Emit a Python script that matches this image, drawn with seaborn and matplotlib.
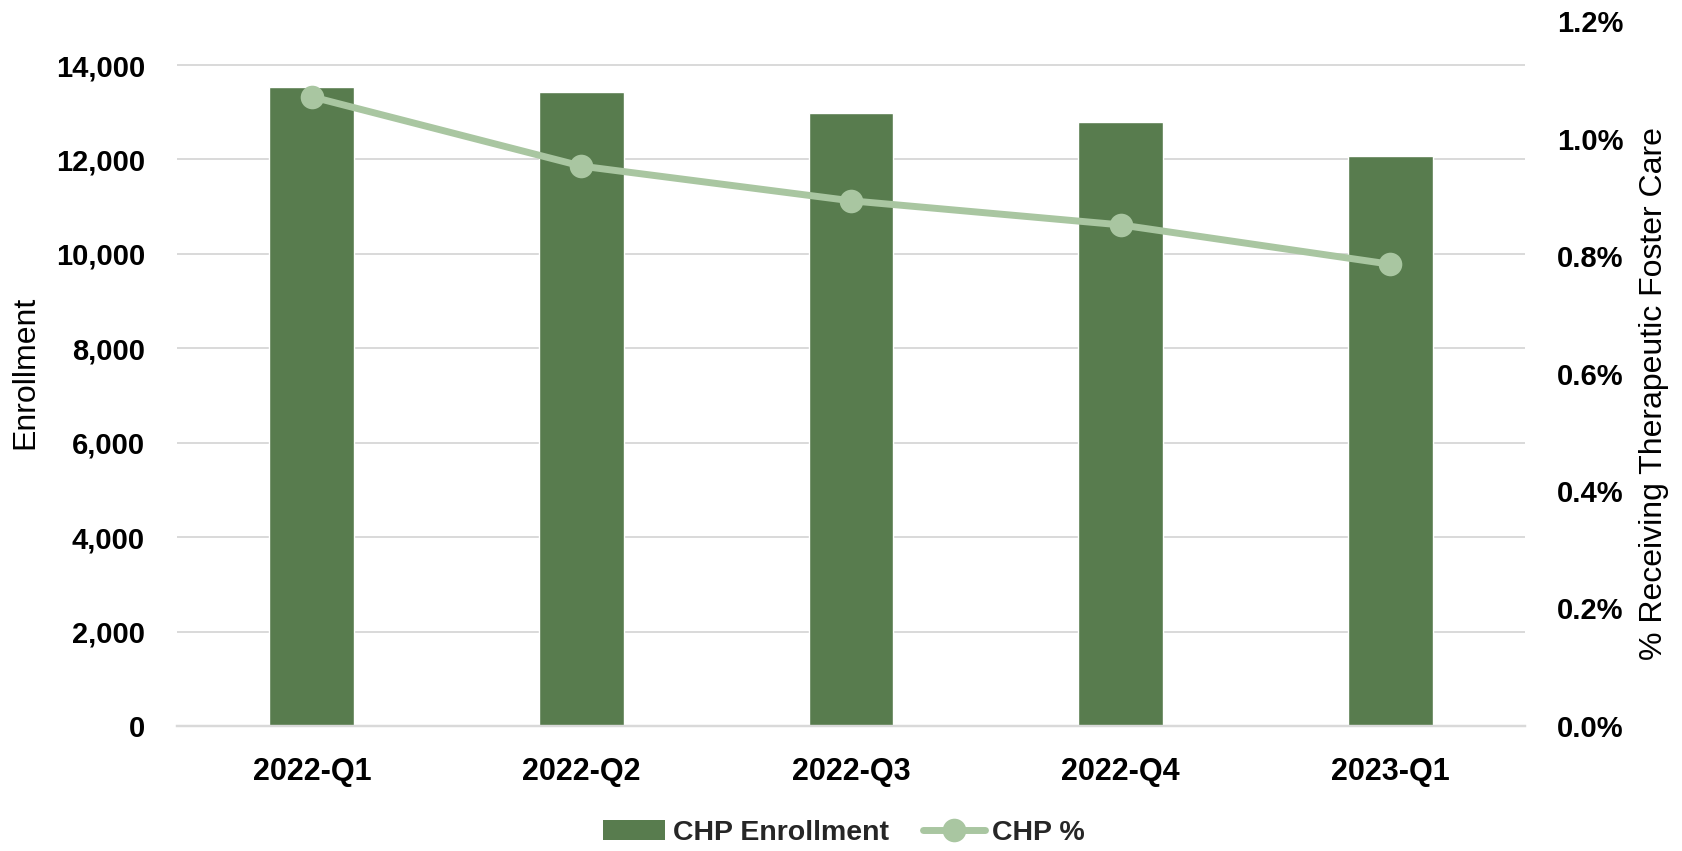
import numpy as np
import matplotlib
matplotlib.use("Agg")
import matplotlib.pyplot as plt
import seaborn as sns
from matplotlib.patches import Patch
from matplotlib.lines import Line2D
from matplotlib.ticker import FuncFormatter

sns.set_theme(style="white")
plt.rcParams["font.family"] = ["Liberation Sans", "DejaVu Sans"]

# --- data ---
quarters = ["2022-Q1", "2022-Q2", "2022-Q3", "2022-Q4", "2023-Q1"]
enrollment = [13540, 13430, 12980, 12800, 12080]
chp_pct = [0.01071, 0.00953, 0.00894, 0.00853, 0.00786]

bar_color = "#587c4e"
line_color = "#a9c6a1"
grid_color = "#d9d9d9"

fig = plt.figure(figsize=(16.83, 8.51), dpi=100)
ax = fig.add_axes([0.1052, 0.1469, 0.8009, 0.8284])

# Bars: enrollment
sns.barplot(x=quarters, y=enrollment, color=bar_color, saturation=1,
            width=0.315, ax=ax)
ax.set_ylim(0, 14932)
ax.set_yticks(range(0, 14001, 2000))
ax.yaxis.set_major_formatter(FuncFormatter(lambda v, p: f"{v:,.0f}"))
ax.yaxis.grid(True, color=grid_color, linewidth=1.4)
ax.set_axisbelow(True)
ax.set_xlabel("")
ax.set_ylabel("")

# Line: percent on secondary axis
ax2 = ax.twinx()
sns.pointplot(x=quarters, y=chp_pct, color=line_color, errorbar=None,
              linewidth=5, markersize=17, markeredgewidth=0, ax=ax2)
ax2.set_ylim(0, 0.012)
ax2.set_yticks(np.arange(0, 0.0121, 0.002))
ax2.yaxis.set_major_formatter(FuncFormatter(lambda v, p: f"{v * 100:.1f}%"))
ax2.set_xlabel("")
ax2.set_ylabel("")
ax2.grid(False)
ax.set_xlim(-0.5, 4.5)

for a in (ax, ax2):
    for side in ("top", "left", "right"):
        a.spines[side].set_visible(False)
    a.spines["bottom"].set_color(grid_color)
    a.spines["bottom"].set_linewidth(1.6)
    a.tick_params(length=0)

ax.tick_params(axis="y", pad=23, labelsize=21, labelcolor="black")
ax.tick_params(axis="x", pad=22, labelsize=22, labelcolor="black")
ax2.tick_params(axis="y", pad=23, labelsize=21, labelcolor="black")
for lbl in ax.get_xticklabels() + ax.get_yticklabels() + ax2.get_yticklabels():
    lbl.set_fontweight("bold")

# Axis titles
fig.text(25 / 1683, 1 - 372 / 851, "Enrollment", rotation=90,
         ha="center", va="center", fontsize=23, color="black")
fig.text(1654 / 1683, 1 - 394 / 851, "% Receiving Therapeutic Foster Care",
         rotation=90, ha="center", va="center", fontsize=23, color="black")

# Legend
handles = [
    Patch(facecolor=bar_color, edgecolor="none"),
    Line2D([], [], color=line_color, linewidth=5, marker="o",
           markersize=17, markeredgewidth=0),
]
fig.legend(handles, ["CHP Enrollment", "CHP %"], loc="center",
           bbox_to_anchor=(844 / 1683, 1 - 833 / 851), ncol=2, frameon=False,
           prop={"size": 20.5, "weight": "bold"}, handlelength=2.2,
           handletextpad=0.25, columnspacing=1.2)

fig.savefig("out.png", dpi=100)
